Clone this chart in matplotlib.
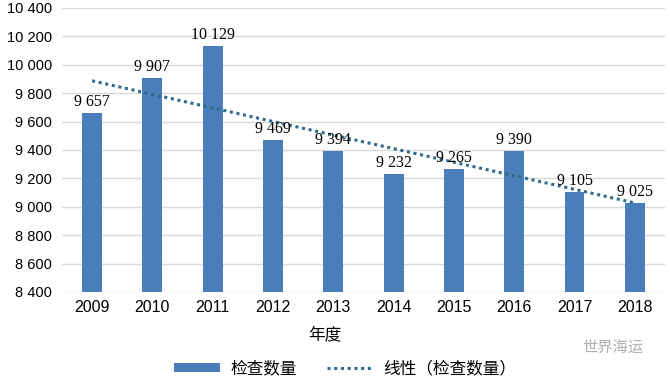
import matplotlib.pyplot as plt
import numpy as np

years = ['2009', '2010', '2011', '2012', '2013', '2014', '2015', '2016', '2017', '2018']
counts = [9657, 9907, 10129, 9469, 9394, 9232, 9265, 9390, 9105, 9025]
y_ticks = [8400, 8600, 8800, 9000, 9200, 9400, 9600, 9800, 10000, 10200, 10400]

cjk = ['Noto Sans CJK SC', 'DejaVu Sans']

fig = plt.figure(figsize=(6.7, 3.8), dpi=100)
ax = fig.add_axes([0.0925, 0.2316, 0.9, 0.7474])

x = np.arange(len(years))
bars = ax.bar(x, counts, width=0.33, color='#4a7ebb', zorder=3, label='检查数量')

# linear trend, like the spreadsheet trendline
k, b = np.polyfit(x, counts, 1)
trend, = ax.plot(x, k * x + b, linestyle=(0, (1, 1.2)), linewidth=2.2, color='#2e6c8c',
                 zorder=4, label='线性（检查数量）')

for xi, v in zip(x, counts):
    ax.text(xi, v + 22, '{:,}'.format(v).replace(',', ' '), ha='center', va='bottom',
            fontsize=11.5, family='Liberation Serif', zorder=5)

ax.set_xlim(-0.5, len(years) - 0.5)
ax.set_ylim(8400, 10400)
ax.set_yticks(y_ticks)
ax.set_yticklabels(['{:,}'.format(t).replace(',', ' ') for t in y_ticks],
                   family='Liberation Sans', fontsize=10.5)
ax.set_xticks(x)
ax.set_xticklabels(years, family='Liberation Sans', fontsize=11.5)
ax.tick_params(length=0)
ax.tick_params(axis='y', pad=7)
ax.tick_params(axis='x', pad=6)
ax.grid(axis='y', color='#d9d9d9', linewidth=1, zorder=0)
for s in ax.spines.values():
    s.set_visible(False)

ax.set_xlabel('年度', family=cjk, fontsize=12)
ax.xaxis.set_label_coords(0.436, -0.12)

fig.legend([bars, trend], ['检查数量', '线性（检查数量）'], loc='center',
           bbox_to_anchor=(0.515, 0.03), ncol=2, frameon=False,
           prop={'family': cjk, 'size': 12}, handlelength=2.8, handleheight=0.45,
           columnspacing=1.8, handletextpad=0.6)

fig.text(0.915, 0.085, '世界海运', family=cjk, fontsize=11, color='#b0b0b0',
         ha='center', va='center')

fig.savefig('out.png', dpi=100)
